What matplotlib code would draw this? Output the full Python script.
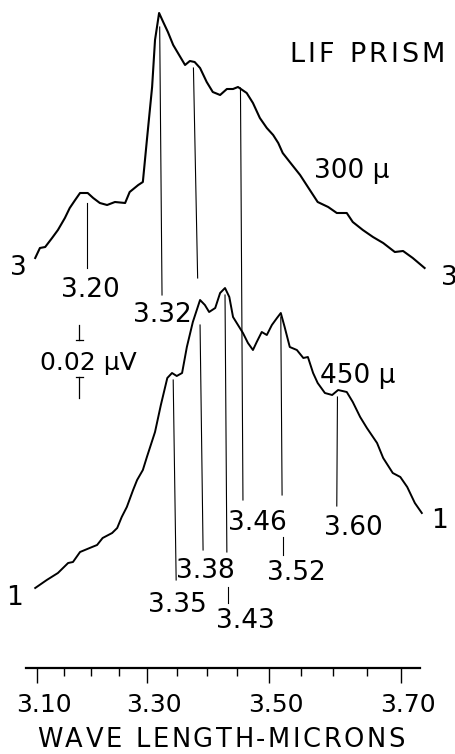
import numpy as np
import matplotlib
matplotlib.use("Agg")
import matplotlib.pyplot as plt
from matplotlib.font_manager import FontProperties

# ---------------- data ----------------
# wavelength (microns) and recorder deflection (arbitrary units) -- 300 micron slit (trace "3")
wl_300 = [3.096, 3.105, 3.115, 3.128, 3.139, 3.152, 3.161, 3.171, 3.180, 3.194,
          3.204, 3.216, 3.229, 3.243, 3.261, 3.269, 3.284, 3.292, 3.299, 3.308,
          3.313, 3.320, 3.327, 3.335, 3.344, 3.352, 3.364, 3.372, 3.380, 3.389,
          3.400, 3.410, 3.422, 3.433, 3.443, 3.451, 3.465, 3.475, 3.486, 3.497,
          3.507, 3.515, 3.522, 3.533, 3.549, 3.564, 3.576, 3.592, 3.605, 3.620,
          3.629, 3.644, 3.659, 3.674, 3.691, 3.703, 3.717, 3.734]
sig_300 = [410, 420, 421, 430, 438, 450, 460, 468, 475, 475,
           470, 465, 463, 466, 465, 476, 483, 486, 528, 581,
           628, 655, 646, 636, 623, 615, 603, 607, 606, 600,
           586, 576, 573, 579, 579, 581, 575, 565, 550, 540,
           533, 525, 515, 506, 493, 478, 466, 461, 455, 455,
           446, 438, 431, 425, 416, 417, 410, 400]

# 450 micron slit (trace "1")
wl_450 = [3.096, 3.118, 3.139, 3.158, 3.167, 3.180, 3.202, 3.211, 3.221, 3.238,
          3.247, 3.255, 3.264, 3.275, 3.282, 3.292, 3.299, 3.313, 3.323, 3.334,
          3.342, 3.350, 3.359, 3.367, 3.377, 3.389, 3.397, 3.404, 3.414, 3.422,
          3.430, 3.437, 3.443, 3.451, 3.459, 3.467, 3.475, 3.481, 3.489, 3.497,
          3.505, 3.513, 3.519, 3.525, 3.533, 3.544, 3.554, 3.561, 3.569, 3.576,
          3.587, 3.598, 3.607, 3.620, 3.629, 3.640, 3.650, 3.665, 3.674, 3.688,
          3.699, 3.709, 3.720, 3.730]
sig_450 = [80, 88, 95, 105, 106, 116, 121, 123, 130, 135,
           140, 151, 161, 178, 188, 198, 211, 236, 263, 290,
           295, 292, 295, 321, 346, 368, 363, 356, 360, 375,
           380, 371, 351, 343, 335, 325, 318, 326, 336, 333,
           343, 350, 355, 341, 321, 318, 310, 311, 295, 285,
           275, 273, 278, 276, 266, 251, 240, 225, 210, 195,
           191, 181, 165, 155]

# peak marker lines: (wl_top, sig_top, wl_bottom, sig_bottom)
marks_300 = [(3.193, 465, 3.193, 400),
             (3.321, 641, 3.325, 373),
             (3.378, 600, 3.385, 390),
             (3.455, 580, 3.459, 168)]
marks_450 = [(3.344, 288, 3.349, 88),
             (3.389, 343, 3.394, 118),
             (3.430, 373, 3.433, 116),
             (3.435, 81, 3.435, 65),
             (3.519, 351, 3.521, 173),
             (3.522, 131, 3.522, 113),
             (3.606, 271, 3.605, 162)]

major_ticks = [3.10, 3.30, 3.50, 3.70]
minor_ticks = [3.15, 3.20, 3.25, 3.35, 3.40, 3.45, 3.55, 3.60, 3.65]
tick_labels = ["3.10", "3.30", "3.50", "3.70"]

# text labels: (text, x_px, baseline_px, size, extra letter spacing px)
labels = [("LIF PRISM", 367, 62, 19.5, 3.2),
          ("300 µ", 352, 178, 19, 0),
          ("450 µ", 358, 383, 19, 0),
          ("3", 18, 275, 19, 0),
          ("3", 449, 285, 19, 0),
          ("1", 15, 605, 19, 0),
          ("1", 440, 528, 19, 0),
          ("3.20", 90, 297, 19, 0),
          ("3.32", 162, 322, 19, 0),
          ("0.02 µV", 88, 370, 18, 0),
          ("3.46", 257, 530, 19, 0),
          ("3.60", 353, 535, 19, 0),
          ("3.38", 205, 578, 19, 0),
          ("3.52", 296, 580, 19, 0),
          ("3.35", 177, 612, 19, 0),
          ("3.43", 245, 628, 19, 0),
          ("WAVE LENGTH-MICRONS", 221, 747, 18.5, 2.6)]

# ---------------- prism dispersion scale ----------------
B, C, P0 = 523.2, 138.3, 37.3


def fwd(w):
    d = np.asarray(w, dtype=float) - 3.1
    return P0 + B * d + C * d ** 2


def inv(p):
    p = np.asarray(p, dtype=float)
    disc = np.clip(B ** 2 + 4 * C * (p - P0), 0, None)
    return 3.1 + (-B + np.sqrt(disc)) / (2 * C)


W, H = 456, 754
fig = plt.figure(figsize=(W / 100, H / 100), dpi=100)
ax = fig.add_axes([0, 0, 1, 1])
ax.set_xscale("function", functions=(fwd, inv))
ax.set_xlim(float(inv(0)), float(inv(W)))
ax.set_ylim(668 - H, 668)

ink = "black"
ax.plot(wl_300, sig_300, color=ink, lw=1.5, solid_joinstyle="round")
ax.plot(wl_450, sig_450, color=ink, lw=1.4, solid_joinstyle="round")
for x0, y0, x1, y1 in marks_300 + marks_450:
    ax.plot([x0, x1], [y0, y1], color=ink, lw=0.8)

# scale bar (0.02 uV)
sb = float(inv(79))
sl, sr = float(inv(76)), float(inv(83))
ax.plot([sb, sb], [343, 328], color=ink, lw=0.9)
ax.plot([sl, sr], [328, 328], color=ink, lw=0.9)
ax.plot([sl, sr], [291, 291], color=ink, lw=0.9)
ax.plot([sb, sb], [291, 270], color=ink, lw=0.9)

# wavelength axis
for s in ["top", "right", "left"]:
    ax.spines[s].set_visible(False)
ax.spines["bottom"].set_position(("data", 0))
ax.spines["bottom"].set_bounds(float(inv(26)), float(inv(420)))
ax.spines["bottom"].set_linewidth(1.6)
ax.set_xticks(major_ticks)
ax.set_xticks(minor_ticks, minor=True)
ax.tick_params(axis="x", which="major", direction="out", length=11, width=1.0,
               labelbottom=False)
ax.tick_params(axis="x", which="minor", direction="out", length=6, width=1.0)
ax.set_yticks([])
ax.patch.set_alpha(0)

for w, lab in zip(major_ticks, tick_labels):
    ax.annotate(lab, xy=(w, 0), xytext=(5, -32), textcoords="offset points",
                ha="center", va="baseline", fontsize=18, color=ink)

renderer = fig.canvas.get_renderer()


def put_text(txt, xc, yb, fs, track):
    if track == 0:
        fig.text(xc / W, 1 - yb / H, txt, ha="center", va="baseline",
                 fontsize=fs, color=ink)
        return
    prop = FontProperties(size=fs)
    widths = []
    for ch in txt:
        if ch == " ":
            w_, _, _ = renderer.get_text_width_height_descent("a a", prop, ismath=False)
            w2, _, _ = renderer.get_text_width_height_descent("aa", prop, ismath=False)
            widths.append(w_ - w2)
        else:
            w_, _, _ = renderer.get_text_width_height_descent(ch, prop, ismath=False)
            widths.append(w_)
    total = sum(widths) + track * (len(txt) - 1)
    x = xc - total / 2
    for ch, wd in zip(txt, widths):
        if ch != " ":
            fig.text(x / W, 1 - yb / H, ch, ha="left", va="baseline",
                     fontsize=fs, color=ink)
        x += wd + track


for txt, xp, yp, fs, tr in labels:
    put_text(txt, xp, yp, fs, tr)

fig.savefig("out.png", dpi=100)
